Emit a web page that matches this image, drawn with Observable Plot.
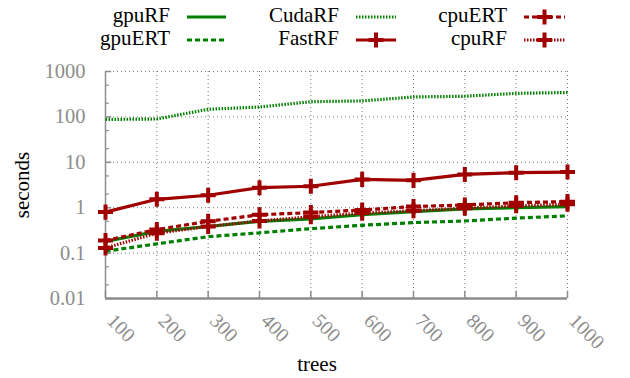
<!DOCTYPE html>
<html><head><meta charset="utf-8">
<script src="https://cdn.jsdelivr.net/npm/d3@7"></script>
<script src="https://cdn.jsdelivr.net/npm/@observablehq/plot@0.6"></script>
<style>
body{margin:0;background:#fff;font-family:"Liberation Serif","Times New Roman","DejaVu Serif",serif;}
#wrap{position:relative;width:630px;height:378px;}
#legend{position:absolute;left:0;top:0;width:630px;height:55px;}
</style></head>
<body><div id="wrap"><svg id="legend" width="630" height="55"></svg></div>
<script>
const trees = [100,200,300,400,500,600,700,800,900,1000];
const gpuRF  = [0.18,0.30,0.385,0.50,0.57,0.70,0.82,0.94,1.0,1.06];
const gpuERT = [0.11,0.16,0.23,0.28,0.345,0.41,0.47,0.51,0.59,0.66];
const CudaRF = [88,90,147,165,216,225,275,285,330,345];
const FastRF = [0.80,1.53,1.88,2.76,2.97,4.2,4.0,5.4,5.9,6.1];
const cpuERT = [0.19,0.33,0.50,0.70,0.78,0.89,1.06,1.15,1.29,1.36];
const cpuRF  = [0.13,0.275,0.385,0.51,0.63,0.76,0.86,0.97,1.1,1.19];
const yTicks = [0.01,0.1,1,10,100,1000];
const yTickLabels = ["0.01","0.1","1","10","100","1000"];

const FONT = "'Liberation Serif','Times New Roman','DejaVu Serif',serif";
const GREEN = "#008000", RED = "#a00000", GRAY = "#8c8c8c";
const series = [
  {name:"gpuRF", values:gpuRF, color:GREEN, dash:null, marker:false},
  {name:"gpuERT", values:gpuERT, color:GREEN, dash:"5,3", marker:false},
  {name:"CudaRF", values:CudaRF, color:GREEN, dash:"1.5,1.5", marker:false},
  {name:"FastRF", values:FastRF, color:RED, dash:null, marker:true},
  {name:"cpuERT", values:cpuERT, color:RED, dash:"5,3", marker:true},
  {name:"cpuRF", values:cpuRF, color:RED, dash:"1.5,1.5", marker:true}
];
const rows = series.flatMap(s => s.values.map((v,i) => ({series:s.name, trees:trees[i], v})));
const minor = yTicks.slice(0,-1).flatMap(d => [2*d, 5*d]);

const plusSymbol = {draw(ctx, size){ const r = Math.sqrt(size)/2; ctx.moveTo(-r,0); ctx.lineTo(r,0); ctx.moveTo(0,-r); ctx.lineTo(0,r);} };

const lineMark = s => {
  const o = {x:"trees", y:"v", stroke:s.color, strokeWidth:3.2, strokeLinecap:"butt", strokeLinejoin:"miter"};
  if (s.dash) o.strokeDasharray = s.dash;
  return Plot.line(rows.filter(r=>r.series===s.name), o);
};

const marks = [
  Plot.gridY(yTicks, {stroke:"#777", strokeOpacity:1, strokeDasharray:"1,3", strokeWidth:1}),
  Plot.gridX(trees, {stroke:"#777", strokeOpacity:1, strokeDasharray:"1,3", strokeWidth:1}),
  Plot.ruleY(yTicks, {y:d=>d, x1:100, x2:112, stroke:GRAY, strokeWidth:1.5}),
  Plot.ruleY(minor, {y:d=>d, x1:100, x2:107.5, stroke:GRAY, strokeWidth:1.2}),
  Plot.ruleX(trees, {x:d=>d, y1:0.01, y2:0.0145, stroke:GRAY, strokeWidth:1.5}),
  Plot.ruleX([100], {stroke:GRAY, strokeWidth:1.5}),
  Plot.ruleY([0.01], {stroke:GRAY, strokeWidth:2.5}),
  Plot.text(yTicks, {x:100, y:d=>d, text:(d,i)=>yTickLabels[i], textAnchor:"end", dx:-20, fill:GRAY, fontSize:20.5, fontFamily:FONT}),
  Plot.text(trees, {x:d=>d, y:0.01, text:d=>String(d), rotate:45, textAnchor:"start", dx:5, dy:19, fill:GRAY, fontSize:20, fontFamily:FONT}),
  ...series.map(lineMark),
  ...series.filter(s=>s.marker).map(s => Plot.dot(rows.filter(r=>r.series===s.name), {x:"trees", y:"v", symbol:plusSymbol, r:8.5, stroke:s.color, strokeWidth:4, fill:"none", strokeLinecap:"butt"}))
];

const chart = Plot.plot({
  width:630, height:378,
  marginTop:71, marginBottom:80, marginLeft:105, marginRight:63,
  x:{type:"linear", domain:[100,1000], axis:null},
  y:{type:"log", domain:[0.01,1000], axis:null},
  style:{fontFamily:FONT, background:"transparent"},
  marks
});
const wrap = document.getElementById("wrap");
wrap.insertBefore(chart, wrap.firstChild);

const svgNS = "http://www.w3.org/2000/svg";
function addText(svg, x, y, txt, opts={}){
  const t = document.createElementNS(svgNS,"text");
  t.setAttribute("x",x); t.setAttribute("y",y);
  t.style.fontFamily = FONT;
  t.setAttribute("font-size",opts.size||21);
  t.setAttribute("fill",opts.fill||"#000");
  t.setAttribute("text-anchor",opts.anchor||"middle");
  t.setAttribute("dominant-baseline","middle");
  if(opts.transform) t.setAttribute("transform",opts.transform);
  t.textContent = txt; svg.appendChild(t); return t;
}
addText(chart, 317, 366, "trees");
addText(chart, 24, 185, "seconds", {transform:"rotate(-90 24 185)"});

const leg = document.getElementById("legend");
const cols = [[170,187,226],[339,356,396],[507,524,565]];
const order = [["gpuRF","gpuERT"],["CudaRF","FastRF"],["cpuERT","cpuRF"]];
const rowY = [17,40];
order.forEach((col,ci)=>col.forEach((name,ri)=>{
  const s = series.find(d=>d.name===name);
  const [tx,x1,x2] = cols[ci]; const y = rowY[ri];
  addText(leg, tx, y, name, {anchor:"end", size:21});
  const l = document.createElementNS(svgNS,"line");
  l.setAttribute("x1",x1); l.setAttribute("x2",x2); l.setAttribute("y1",y); l.setAttribute("y2",y);
  l.setAttribute("stroke",s.color); l.setAttribute("stroke-width",3.2);
  if(s.dash) l.setAttribute("stroke-dasharray",s.dash);
  leg.appendChild(l);
  if(s.marker){
    const m=(x1+x2)/2, p=document.createElementNS(svgNS,"path");
    p.setAttribute("d",`M${m-7.5},${y}H${m+7.5}M${m},${y-7.5}V${y+7.5}`);
    p.setAttribute("stroke",s.color); p.setAttribute("stroke-width",4); p.setAttribute("fill","none");
    leg.appendChild(p);
  }
}));
</script></body></html>
